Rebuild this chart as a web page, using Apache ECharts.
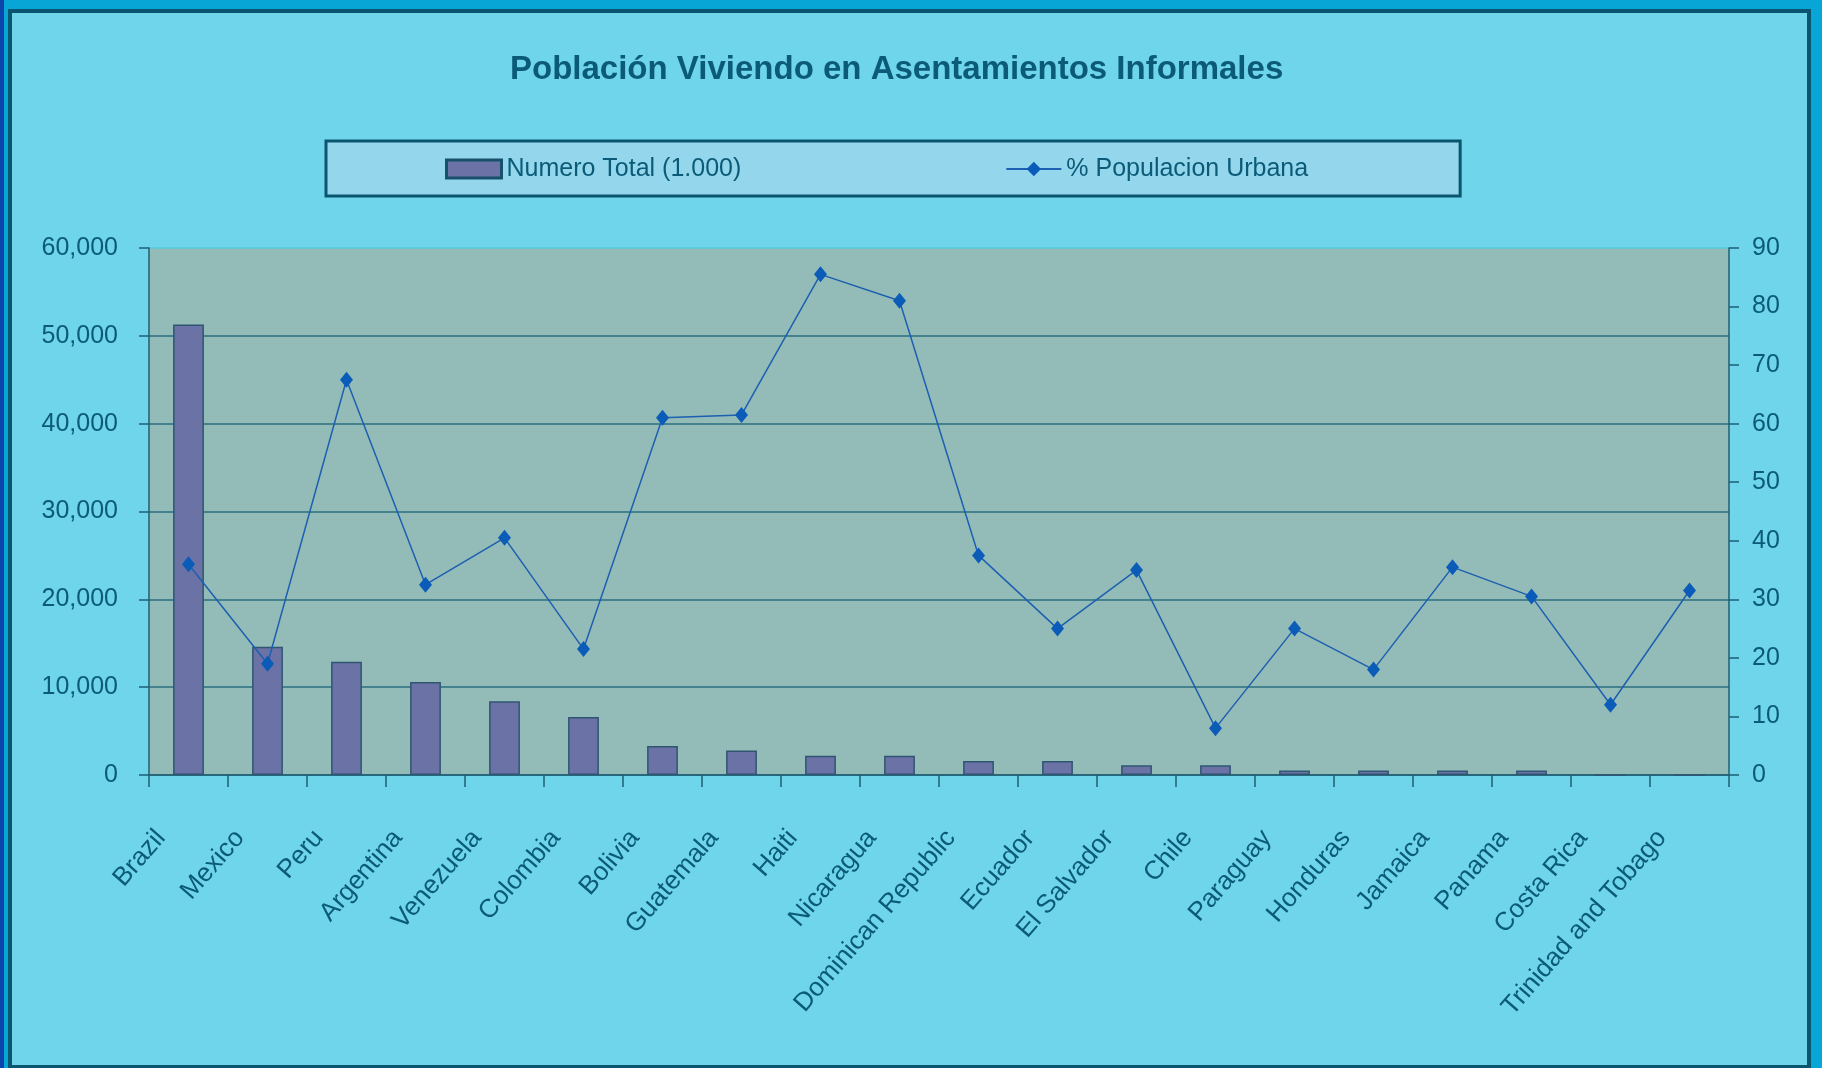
<!DOCTYPE html>
<html>
<head>
<meta charset="utf-8">
<script src="https://cdn.jsdelivr.net/npm/echarts@6/dist/echarts.min.js"></script>
<style>
  html, body { margin: 0; padding: 0; }
  body { width: 1822px; height: 1068px; background: #07a6d6; position: relative; overflow: hidden; }
  .strip { position: absolute; left: 0; top: 0; width: 4px; height: 1068px; background: #0b44aa; }
  .panel { position: absolute; left: 8px; top: 9px; width: 1795px; height: 1052px; border: 4px solid #0a5670; background: #6fd5ea; }
  #main { position: absolute; left: 0; top: 0; width: 1822px; height: 1068px; }
</style>
</head>
<body>
<div class="strip"></div>
<div class="panel"></div>
<div id="main"></div>
<script>
var countries = ['Brazil', 'Mexico', 'Peru', 'Argentina', 'Venezuela', 'Colombia', 'Bolivia', 'Guatemala', 'Haiti', 'Nicaragua',
  'Dominican Republic', 'Ecuador', 'El Salvador', 'Chile', 'Paraguay', 'Honduras', 'Jamaica', 'Panama', 'Costa Rica', 'Trinidad and Tobago'];
var totals = [51300, 14600, 12900, 10600, 8400, 6600, 3300, 2800, 2200, 2200,
  1600, 1600, 1100, 1100, 500, 500, 500, 500, 0, 0];
var urbanPct = [36, 19, 67.5, 32.5, 40.5, 21.5, 61, 61.5, 85.5, 81,
  37.5, 25, 35, 8, 25, 18, 35.5, 30.5, 12, 31.5];

var textColor = '#0b5b78';
var font = '"Liberation Sans", Arial, sans-serif';

var chartDom = document.getElementById('main');
var myChart = echarts.init(chartDom);
var option;
option = {
  backgroundColor: 'transparent',
  textStyle: { fontFamily: font },
  title: {
    text: 'Población Viviendo en Asentamientos Informales',
    left: 505,
    top: 48,
    textStyle: { color: textColor, fontSize: 33, fontWeight: 'bold', fontFamily: font }
  },
  legend: {
    left: 326,
    top: 141,
    padding: [15, 152, 14, 119],
    backgroundColor: '#94d7ec',
    borderColor: '#0a5670',
    borderWidth: 3,
    borderRadius: 0,
    itemGap: 264,
    itemWidth: 55,
    itemHeight: 18,
    textStyle: { color: textColor, fontSize: 25, fontFamily: font, lineHeight: 26 },
    data: [
      { name: 'Numero Total (1.000)', icon: 'rect', itemStyle: { borderColor: '#17506a', borderWidth: 3 } },
      { name: '% Populacion Urbana' }
    ]
  },
  grid: {
    left: 149,
    right: 93,
    top: 248,
    bottom: 293,
    show: true,
    backgroundColor: '#93bcb8',
    borderWidth: 0
  },
  xAxis: {
    type: 'category',
    data: countries,
    boundaryGap: true,
    axisLine: { lineStyle: { color: '#1f5f74', width: 1.5 } },
    axisTick: { show: true, length: 12, lineStyle: { color: '#1f5f74', width: 1.5 } },
    axisLabel: {
      rotate: 49,
      interval: 0,
      margin: 27,
      padding: [0, 42, 0, 0],
      color: textColor,
      fontSize: 26,
      fontFamily: font
    }
  },
  yAxis: [
    {
      type: 'value',
      min: 0,
      max: 60000,
      interval: 10000,
      axisLine: { show: true, lineStyle: { color: '#1f5f74', width: 1.5 } },
      axisTick: { show: true, length: 10, lineStyle: { color: '#1f5f74', width: 1.5 } },
      axisLabel: {
        margin: 31,
        color: textColor,
        fontSize: 25,
        fontFamily: font,
        formatter: function (v) { return v.toLocaleString('en-US'); }
      },
      splitLine: {
        lineStyle: {
          color: ['#2b6f80', '#2b6f80', '#2b6f80', '#2b6f80', '#2b6f80', '#2b6f80', '#56c8dc'],
          width: 1.5
        }
      }
    },
    {
      type: 'value',
      min: 0,
      max: 90,
      interval: 10,
      position: 'right',
      axisLine: { show: true, lineStyle: { color: '#1f5f74', width: 1.5 } },
      axisTick: { show: true, length: 10, lineStyle: { color: '#1f5f74', width: 1.5 } },
      axisLabel: { margin: 23, color: textColor, fontSize: 25, fontFamily: font },
      splitLine: { show: false }
    }
  ],
  series: [
    {
      name: 'Numero Total (1.000)',
      type: 'bar',
      yAxisIndex: 0,
      barWidth: '39%',
      data: totals,
      itemStyle: { color: '#6b72a6', borderColor: '#2f5572', borderWidth: 1.5 }
    },
    {
      name: '% Populacion Urbana',
      type: 'line',
      yAxisIndex: 1,
      data: urbanPct,
      symbol: 'diamond',
      symbolSize: [13, 16],
      lineStyle: { color: '#1d5fb0', width: 1.5 },
      itemStyle: { color: '#0b5cb8' }
    }
  ]
};

option && myChart.setOption(option);
</script>
</body>
</html>
